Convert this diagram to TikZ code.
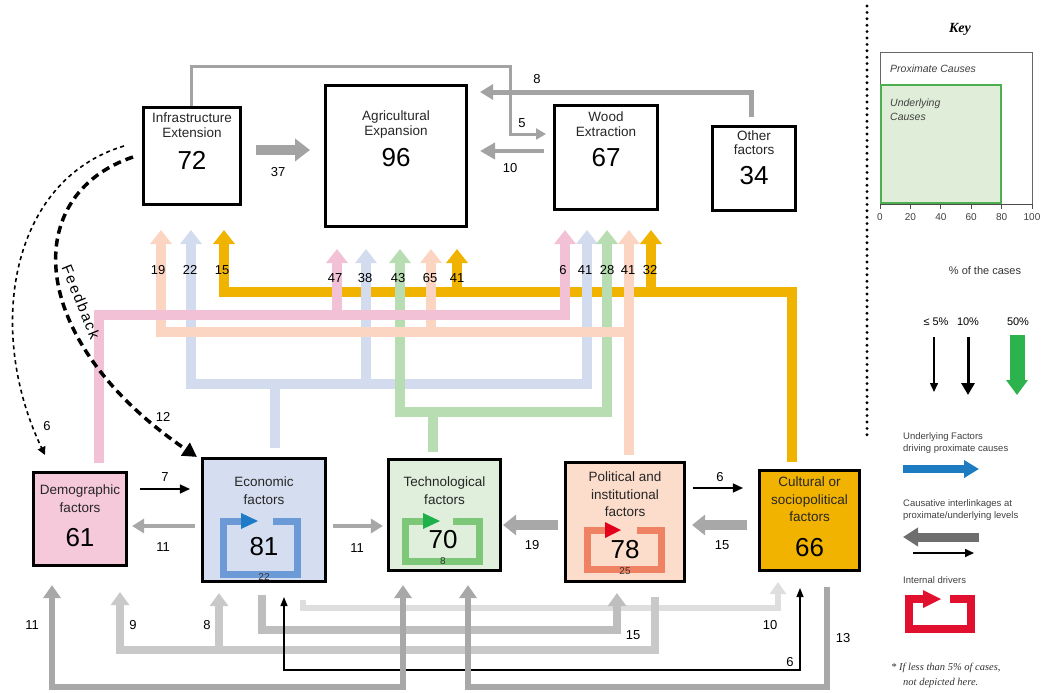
\documentclass[tikz,border=0pt]{standalone}
\usepackage{fontspec}
\setmainfont{Liberation Sans}
\newfontfamily\keyserif{Liberation Serif}
\newfontfamily\fbfont[LetterSpace=12]{Liberation Sans}
\usetikzlibrary{arrows.meta}
\definecolor{pinkc}{HTML}{F3C1D6}
\definecolor{pinkf}{HTML}{F5C8DA}
\definecolor{bluec}{HTML}{D3DCEF}
\definecolor{bluef}{HTML}{D5DEF0}
\definecolor{greenc}{HTML}{B8DDB2}
\definecolor{greenf}{HTML}{DFEFDB}
\definecolor{peachc}{HTML}{FBD5C2}
\definecolor{peachf}{HTML}{FCDCCB}
\definecolor{orangec}{HTML}{F0B400}
\definecolor{orangef}{HTML}{F2B300}
\definecolor{loopblue}{HTML}{6C9AD6}
\definecolor{arrblue}{HTML}{1F7BC8}
\definecolor{loopgreen}{HTML}{7CC878}
\definecolor{arrgreen}{HTML}{1DB04B}
\definecolor{loopcoral}{HTML}{EE8262}
\definecolor{arrred}{HTML}{E3001B}
\definecolor{grayA}{HTML}{A3A3A3}
\definecolor{gray11}{HTML}{A8A8A8}
\definecolor{gray15}{HTML}{BEBEBE}
\definecolor{gray89}{HTML}{C9C9C9}
\definecolor{gray10}{HTML}{DEDEDE}
\definecolor{keyblue}{HTML}{1C7BC1}
\definecolor{keygray}{HTML}{6E6E6E}
\definecolor{keygreen}{HTML}{2DB34E}
\definecolor{keyred}{HTML}{E0102E}
\definecolor{keyfill}{HTML}{E0EDD9}
\definecolor{keyline}{HTML}{4CAF50}
\begin{document}
\begin{tikzpicture}[x=1pt,y=-1pt,
  pbox/.style={draw=black,line width=3pt,fill=white,inner sep=0pt},
  ubox/.style={draw=black,line width=2.6pt,inner sep=0pt},
  lbl/.style={font=\fontsize{13.5}{14.5}\selectfont,align=center,inner sep=0pt,text=black!85},
  blbl/.style={font=\fontsize{13.5}{17.5}\selectfont,align=center,inner sep=0pt,text=black!85},
  big/.style={font=\fontsize{26}{26}\selectfont,inner sep=0pt},
  num/.style={font=\fontsize{13}{13}\selectfont,inner sep=0pt},
  small/.style={font=\fontsize{10}{10}\selectfont,inner sep=0pt,text=black!80},
  cband/.style={draw=#1,line width=10pt},
  arr/.style 2 args={-{Triangle[width=#1,length=#2]}},
  darr/.style 2 args={{Triangle[width=#1,length=#2]}-{Triangle[width=#1,length=#2]}},
  loopl/.style={draw=#1,line width=7pt},
  ktext/.style={font=\fontsize{9.5}{12}\selectfont,align=left,inner sep=0pt,anchor=west,text=black!75},
]
\useasboundingbox (0,0) rectangle (1041,693);

% ---------- proximate boxes ----------
\node[pbox,minimum width=97pt,minimum height=97pt] (infra) at (192,156) {};
\node[pbox,minimum width=141pt,minimum height=141pt] (agri) at (396,156) {};
\node[pbox,minimum width=103pt,minimum height=104pt] (wood) at (606,157.5) {};
\node[pbox,minimum width=83pt,minimum height=84pt] (other) at (754,168.5) {};
\node[lbl] (infraT) at (192,125) {Infrastructure\\Extension};
\node[big] (infraN) at (192,160) {72};
\node[lbl] (agriT) at (396,124.5) {Agricultural\\Expansion};
\node[big] (agriN) at (396,158) {96};
\node[lbl] (woodT) at (606,124) {Wood\\Extraction};
\node[big] (woodN) at (606,158) {67};
\node[lbl] (otherT) at (754,142.5) {Other\\factors};
\node[big] (otherN) at (754,176) {34};

% ---------- underlying boxes ----------
\node[ubox,fill=pinkf,minimum width=93.5pt,minimum height=93.5pt] (demo) at (80,519) {};
\node[ubox,fill=bluef,minimum width=123.5pt,minimum height=123.5pt] (econ) at (264,520) {};
\node[ubox,fill=greenf,minimum width=112.5pt,minimum height=111.5pt] (tech) at (444.5,515) {};
\node[ubox,fill=peachf,minimum width=119.5pt,minimum height=119.5pt] (pol) at (625,522) {};
\node[ubox,fill=orangef,minimum width=100.5pt,minimum height=100.5pt] (cult) at (809.5,520.5) {};

% loops
\draw[loopl=loopblue] (273,521) -- (297,521) -- (297,574) -- (223,574) -- (223,521) -- (243,521);
\fill[arrblue] (241,513) -- (258,521) -- (241,529) -- cycle;
\draw[loopl=loopgreen] (453,521) -- (479,521) -- (479,561) -- (405,561) -- (405,521) -- (425,521);
\fill[arrgreen] (423,513) -- (440,521) -- (423,529) -- cycle;
\draw[loopl=loopcoral] (637,530) -- (661,530) -- (661,569) -- (587,569) -- (587,530) -- (607,530);
\fill[arrred] (605,522) -- (621,530) -- (605,538) -- cycle;

\node[blbl] (demoT) at (80,498.5) {Demographic\\factors};
\node[big] (demoN) at (80,538) {61};
\node[blbl] (econT) at (264,490.5) {Economic\\factors};
\node[big] (econN) at (264,547) {81};
\node[small] (econI) at (264,577) {22};
\node[blbl] (techT) at (444.5,490.5) {Technological\\factors};
\node[big] (techN) at (443,540) {70};
\node[small] (techI) at (443,561) {8};
\node[blbl] (polT) at (625,494.5) {Political and\\institutional\\factors};
\node[big] (polN) at (625,550) {78};
\node[small] (polI) at (625,571) {25};
\node[blbl] (cultT) at (809.5,499.5) {Cultural or\\sociopolitical\\factors};
\node[big] (cultN) at (809.5,548) {66};

% ---------- coloured underlying -> proximate bands ----------
\draw[cband=orangec,arr={21pt}{14pt}] ([shift={(-17.5,-7)}]cult.north) |- (224,292) -- ([shift={(32,24)}]infra.south);
\draw[cband=orangec,arr={21pt}{14pt}] (457,292) -- ([shift={(61,21)}]agri.south);
\draw[cband=orangec,arr={21pt}{14pt}] (651,292) -- ([shift={(45,19)}]wood.south);

\draw[cband=bluec] ([shift={(11,-9)}]econ.north) -- (275,384);
\draw[cband=bluec,arr={21pt}{14pt}] (275,384) -| ([shift={(-1,24)}]infra.south);
\draw[cband=bluec,arr={21pt}{14pt}] (275,384) -| ([shift={(-19,19)}]wood.south);
\draw[cband=bluec,arr={21pt}{14pt}] (366,384) -- ([shift={(-30,21)}]agri.south);

\draw[cband=greenc] ([shift={(-11.5,-6)}]tech.north) -- (433,412);
\draw[cband=greenc,arr={21pt}{14pt}] (433,412) -| ([shift={(4,21)}]agri.south);
\draw[cband=greenc,arr={21pt}{14pt}] (433,412) -| ([shift={(1,19)}]wood.south);

\draw[cband=peachc,arr={21pt}{14pt}] ([shift={(4,-6)}]pol.north) -- ([shift={(23,19)}]wood.south);
\draw[cband=peachc,arr={21pt}{14pt}] (629,332) -| ([shift={(-31,24)}]infra.south);
\draw[cband=peachc,arr={21pt}{14pt}] (431,332) -- ([shift={(35,21)}]agri.south);

\draw[cband=pinkc,arr={21pt}{14pt}] ([shift={(19,-8)}]demo.north) |- (565,315) -- ([shift={(-41,19)}]wood.south);
\draw[cband=pinkc,arr={21pt}{14pt}] (337,315) -- ([shift={(-59,21)}]agri.south);

\node[num] (n19) at (158,270) {19};
\node[num] (n22) at (190,270) {22};
\node[num] (n15) at (222,270) {15};
\node[num] (n47) at (335,278) {47};
\node[num] (n38) at (365,278) {38};
\node[num] (n43) at (398,278) {43};
\node[num] (n65) at (430,278) {65};
\node[num] (n41) at (457,278) {41};
\node[num] (w6) at (563,270) {6};
\node[num] (w41) at (585,270) {41};
\node[num] (w28) at (607,270) {28};
\node[num] (w41b) at (628,270) {41};
\node[num] (w32) at (650,270) {32};

% ---------- proximate interlinkages ----------
\draw[grayA,line width=10pt,arr={22pt}{15pt}] ([shift={(14,-6)}]infra.east) -- ([shift={(-14,-6)}]agri.west);
\node[num] (l37) at (278,172) {37};
\draw[grayA,line width=4pt,arr={16pt}{15pt}] ([shift={(-9,-6.5)}]wood.west) -- ([shift={(12,-5)}]agri.east);
\node[num] (l10t) at (510,168) {10};
\draw[grayA,line width=3pt,arr={11pt}{10pt}] ([shift={(-1,0)}]infra.north) |- (510,67) |- ([shift={(-7,-23.5)}]wood.west);
\node[num] (l5) at (522,123) {5};
\draw[grayA,line width=5pt,arr={15pt}{13pt}] ([shift={(-3,-8)}]other.north) |- ([shift={(12,-64)}]agri.east);
\node[num] (l8t) at (537,79) {8};

% ---------- feedback ----------
\draw[line width=1.6pt,dash pattern=on 4pt off 3.5pt,arr={8pt}{8pt}] ([shift={(-18,-10)}]infra.west) .. controls (10,180) and (-15,330) .. ([shift={(-35,-16)}]demo.north);
\node[num] (l6f) at (47,426) {6};
\draw[line width=3.5pt,dash pattern=on 8pt off 5pt,arr={15pt}{14pt}] ([shift={(-9,1)}]infra.west) .. controls (20,195) and (25,340) .. ([shift={(-4,0)}]econ.north west);
\node[num] (l12) at (163,417) {12};
\node[font=\fbfont\fontsize{15}{15}\selectfont,rotate=-68,inner sep=0pt] (fb) at (81,302) {Feedback};

% ---------- underlying interlinkages ----------
\draw[line width=1.5pt,arr={9pt}{10pt}] ([shift={(12,-30)}]demo.east) -- ([shift={(-11,-31)}]econ.west);
\node[num] (l7) at (165,477) {7};
\draw[gray11,line width=4pt,arr={14pt}{12pt}] ([shift={(-6,6)}]econ.west) -- ([shift={(4,7)}]demo.east);
\node[num] (l11a) at (163,547) {11};
\draw[gray11,line width=4pt,arr={14pt}{12pt}] ([shift={(6,6)}]econ.east) -- ([shift={(-4,11)}]tech.west);
\node[num] (l11b) at (357,548) {11};
\draw[gray11,line width=10pt,arr={20pt}{13pt}] ([shift={(-6,3)}]pol.west) -- ([shift={(1,10)}]tech.east);
\node[num] (l19) at (532,545) {19};
\draw[line width=1.5pt,arr={9pt}{10pt}] ([shift={(7,-34)}]pol.east) -- ([shift={(-15,-32.5)}]cult.west);
\node[num] (l6a) at (720,477) {6};
\draw[gray11,line width=10pt,arr={20pt}{13pt}] ([shift={(-11,4.5)}]cult.west) -- ([shift={(6,3)}]pol.east);
\node[num] (l15a) at (722,545) {15};

% bottom routes
\draw[gray10,line width=6pt,arr={16pt}{12pt}] ([shift={(39,17)}]econ.south) |- (778,608) -- ([shift={(-31.5,10)}]cult.south);
\draw[gray15,line width=8pt,arr={18pt}{13pt}] ([shift={(-2,12)}]econ.south) |- (617,630) -- ([shift={(-8,10)}]pol.south);
\draw[gray89,line width=8pt,arr={18pt}{13pt}] ([shift={(30,14)}]pol.south) |- (120,650) -- ([shift={(40,25)}]demo.south);
\draw[gray89,line width=8pt,arr={18pt}{13pt}] (219,650) -- ([shift={(-45,10)}]econ.south);
\draw[line width=1.3pt,darr={7pt}{9pt}] ([shift={(20,14)}]econ.south) |- (800,670) -- ([shift={(-9.5,16)}]cult.south);
\draw[gray11,line width=6pt,darr={17pt}{13pt}] ([shift={(-28,18)}]demo.south) |- (403,687) -- ([shift={(-41.5,13)}]tech.south);
\draw[gray11,line width=6pt,arr={17pt}{13pt}] ([shift={(17.5,15)}]cult.south) |- (468,687) -- ([shift={(23.5,13)}]tech.south);
\node[num] (b11) at (32,625) {11};
\node[num] (b9) at (133,625) {9};
\node[num] (b8) at (207,625) {8};
\node[num] (b15) at (633,635) {15};
\node[num] (b10) at (770,625) {10};
\node[num] (b6) at (790,662) {6};
\node[num] (b13) at (843,638) {13};

% ---------- key ----------
\draw[line width=3.2pt,dash pattern=on 0pt off 6.4pt,line cap=round] (867,6) -- (867,440);
\node[font=\keyserif\itshape\bfseries\fontsize{14}{14}\selectfont,inner sep=0pt] (key) at (960,29) {Key};
\draw[black!60,line width=0.7pt] (880,204) -- (880,52) -- (1032,52) -- (1032,204);
\draw[keyline,fill=keyfill,line width=1.5pt] (881,85) rectangle (1001,203);
\draw[black!70,line width=1pt] (880,204) -- (1032,204);
\foreach \i/\t in {0/0,1/20,2/40,3/60,4/80,5/100}{
  \draw[black!70,line width=1pt] (880+30.4*\i,204) -- ++(0,5);
  \node[font=\fontsize{10}{10}\selectfont,inner sep=0pt,text=black!75] (ax\i) at (880+30.4*\i,217) {\t};
}
\node[ktext,font=\itshape\fontsize{10.5}{12}\selectfont] (kprox) at (890,69) {Proximate Causes};
\node[ktext,font=\itshape\fontsize{10.5}{14}\selectfont] (kund) at (890,110) {Underlying\\Causes};
\node[font=\fontsize{11}{11}\selectfont,inner sep=0pt,text=black!80] (kpct) at (985,271) {\% of the cases};
\node[font=\fontsize{11}{11}\selectfont,inner sep=0pt] (k5) at (936,322) {≤ 5\%};
\node[font=\fontsize{11}{11}\selectfont,inner sep=0pt] (k10) at (968,322) {10\%};
\node[font=\fontsize{11}{11}\selectfont,inner sep=0pt] (k50) at (1018,322) {50\%};
\coordinate (k5a) at (934,337); \coordinate (k5b) at (934,392);
\coordinate (k10a) at (968,337); \coordinate (k10b) at (968,395);
\coordinate (k50a) at (1017,335); \coordinate (k50b) at (1017,395);
\draw[line width=1.5pt,arr={8pt}{9pt}] (k5a) -- (k5b);
\draw[line width=3pt,arr={13pt}{12pt}] (k10a) -- (k10b);
\draw[keygreen,line width=15pt,arr={21pt}{15pt}] (k50a) -- (k50b);
\node[ktext] (kuf) at (903,443) {Underlying Factors\\driving proximate causes};
\coordinate (kb1) at (903,469); \coordinate (kb2) at (979,469);
\draw[keyblue,line width=8pt,arr={17pt}{15pt}] (kb1) -- (kb2);
\node[ktext] (kci) at (903,510) {Causative interlinkages at\\proximate/underlying levels};
\coordinate (kg1) at (979,537); \coordinate (kg2) at (903,537);
\draw[keygray,line width=9pt,arr={18pt}{15pt}] (kg1) -- (kg2);
\coordinate (kk1) at (913,553); \coordinate (kk2) at (974,553);
\draw[line width=1.6pt,arr={8pt}{9pt}] (kk1) -- (kk2);
\node[ktext] (kid) at (903,580) {Internal drivers};
\draw[keyred,line width=7.5pt] (950,599) -- (971,599) -- (971,629) -- (909,629) -- (909,599) -- (925,599);
\fill[keyred] (923,590) -- (941,599) -- (923,608) -- cycle;
\node[ktext,font=\keyserif\itshape\fontsize{10.5}{14}\selectfont,text=black!80] (kn1) at (891,668) {* If less than 5\% of cases,};
\node[ktext,font=\keyserif\itshape\fontsize{10.5}{14}\selectfont,text=black!80] (kn2) at (903,683) {not depicted here.};
\end{tikzpicture}
\end{document}
